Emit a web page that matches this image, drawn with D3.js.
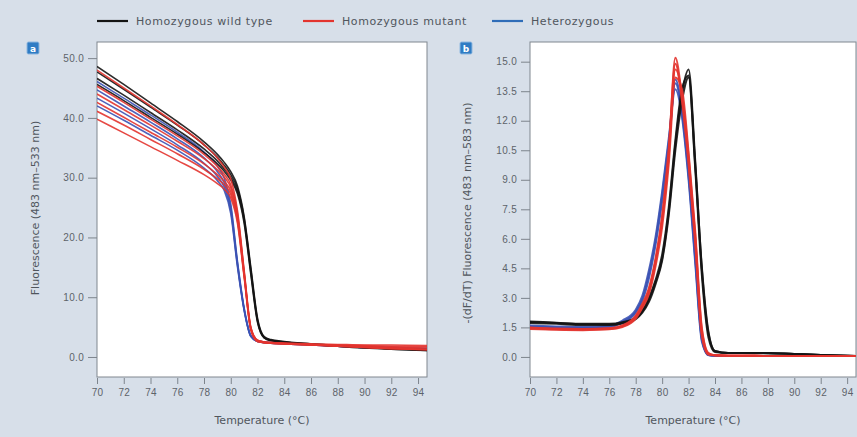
<!DOCTYPE html>
<html>
<head>
<meta charset="utf-8">
<script src="https://cdn.jsdelivr.net/npm/d3@7"></script>
<style>
  body { margin: 0; background: #d7dfe9; }
  svg { display: block; font-family: 'DejaVu Sans', sans-serif; }
  .axis path, .axis line { stroke: #7d848c; }
  .axis text { fill: #5d636a; font-size: 10px; letter-spacing: 0.3px; }
</style>
</head>
<body>
<div id="chart"></div>
<script>
// melting curves (panel a) and derivative peaks (panel b)
const tempA = [70, 72, 74, 76, 78, 79, 79.5, 80, 80.5, 81, 81.5, 82, 82.5, 83, 84, 86, 88, 90, 92, 94.7];

const wildTypeA = [
  [48.6, 45.6, 42.5, 39.4, 36.0, 33.9, 32.6, 31.0, 28.6, 23.5, 15.0, 6.5, 3.4, 2.9, 2.6, 2.2, 1.9, 1.6, 1.4, 1.2],
  [47.7, 44.8, 41.8, 38.8, 35.5, 33.4, 32.1, 30.5, 28.2, 23.2, 14.6, 6.2, 3.3, 2.8, 2.5, 2.2, 1.9, 1.6, 1.4, 1.2],
  [46.6, 43.8, 40.9, 38.0, 34.8, 32.8, 31.5, 30.0, 27.7, 22.8, 14.2, 6.0, 3.2, 2.8, 2.5, 2.1, 1.8, 1.6, 1.3, 1.1],
  [45.6, 42.9, 40.1, 37.3, 34.2, 32.3, 31.1, 29.6, 27.3, 22.4, 13.8, 5.8, 3.2, 2.7, 2.4, 2.1, 1.8, 1.5, 1.3, 1.1]
];
const mutantA = [
  [48.0, 45.0, 42.0, 38.9, 35.5, 33.3, 31.8, 29.8, 24.5, 14.5, 5.0, 2.8, 2.5, 2.4, 2.3, 2.1, 2.0, 1.9, 1.8, 1.7],
  [45.3, 42.6, 39.8, 37.0, 33.9, 31.9, 30.6, 28.8, 24.0, 14.2, 4.9, 2.8, 2.5, 2.4, 2.3, 2.1, 1.9, 1.8, 1.6, 1.5],
  [44.0, 41.4, 38.8, 36.1, 33.2, 31.3, 30.1, 28.3, 23.6, 14.0, 4.8, 2.7, 2.4, 2.3, 2.2, 2.0, 1.9, 1.7, 1.5, 1.3],
  [42.6, 40.1, 37.6, 35.1, 32.3, 30.5, 29.4, 27.7, 23.2, 13.8, 4.7, 2.7, 2.5, 2.4, 2.3, 2.2, 2.1, 2.0, 2.0, 1.9],
  [41.1, 38.8, 36.4, 34.0, 31.4, 29.8, 28.8, 27.2, 22.8, 13.6, 4.6, 2.6, 2.4, 2.3, 2.2, 2.0, 1.8, 1.6, 1.4, 1.2],
  [39.8, 37.5, 35.2, 32.9, 30.5, 29.0, 28.1, 26.6, 22.4, 13.4, 4.5, 2.6, 2.4, 2.3, 2.2, 2.0, 1.8, 1.6, 1.4, 1.2]
];
const heteroA = [
  [46.1, 43.3, 40.5, 37.6, 34.3, 31.9, 30.0, 25.6, 16.0, 8.2, 3.6, 2.7, 2.5, 2.4, 2.3, 2.1, 1.9, 1.7, 1.6, 1.4],
  [44.7, 42.0, 39.3, 36.5, 33.3, 31.0, 29.2, 25.0, 15.7, 8.0, 3.5, 2.7, 2.5, 2.4, 2.3, 2.1, 1.9, 1.7, 1.6, 1.4],
  [43.3, 40.8, 38.2, 35.5, 32.4, 30.2, 28.5, 24.5, 15.4, 7.9, 3.5, 2.6, 2.4, 2.3, 2.2, 2.0, 1.8, 1.6, 1.5, 1.3],
  [42.0, 39.6, 37.1, 34.6, 31.6, 29.5, 27.9, 24.0, 15.1, 7.8, 3.4, 2.6, 2.4, 2.3, 2.2, 2.0, 1.8, 1.6, 1.5, 1.3]
];

const tempB = [70, 72, 74, 76, 77, 78, 78.5, 79, 79.5, 80, 80.5, 81, 81.5, 82, 82.5, 83, 83.5, 84, 85, 86, 88, 90, 92, 94.7];

const wildTypeB = [
  [1.78, 1.72, 1.66, 1.66, 1.74, 1.98, 2.3, 2.9, 3.8, 5.0, 7.4, 10.8, 13.4, 14.6, 10.0, 4.5, 1.2, 0.3, 0.2, 0.2, 0.2, 0.15, 0.1, 0.05],
  [1.72, 1.68, 1.62, 1.62, 1.7, 1.92, 2.25, 2.8, 3.7, 4.9, 7.2, 10.5, 13.0, 14.2, 9.6, 4.2, 1.0, 0.25, 0.2, 0.2, 0.18, 0.15, 0.1, 0.05],
  [1.8, 1.74, 1.68, 1.68, 1.76, 2.0, 2.35, 3.0, 3.9, 5.2, 7.6, 11.0, 13.6, 14.3, 9.8, 4.6, 1.3, 0.3, 0.2, 0.2, 0.2, 0.15, 0.1, 0.05]
];
const mutantB = [
  [1.48, 1.42, 1.4, 1.44, 1.58, 2.05, 2.6, 3.4, 4.9, 7.0, 10.4, 15.2, 13.2, 10.0, 6.0, 1.2, 0.15, 0.08, 0.06, 0.06, 0.05, 0.05, 0.05, 0.05],
  [1.45, 1.4, 1.38, 1.42, 1.55, 2.0, 2.55, 3.3, 4.8, 6.9, 10.2, 14.6, 13.4, 10.2, 6.2, 1.4, 0.18, 0.08, 0.06, 0.06, 0.05, 0.05, 0.05, 0.05],
  [1.5, 1.44, 1.42, 1.46, 1.6, 2.1, 2.7, 3.5, 5.0, 7.2, 10.6, 14.9, 13.0, 9.8, 5.8, 1.1, 0.12, 0.08, 0.06, 0.06, 0.05, 0.05, 0.05, 0.05],
  [1.42, 1.38, 1.36, 1.4, 1.52, 1.95, 2.5, 3.2, 4.6, 6.6, 9.8, 14.2, 13.6, 10.4, 6.4, 1.5, 0.2, 0.08, 0.06, 0.06, 0.05, 0.05, 0.05, 0.05]
];
const heteroB = [
  [1.55, 1.5, 1.48, 1.55, 1.78, 2.3, 2.95, 4.2, 5.9, 8.2, 10.9, 13.9, 12.4, 9.2, 5.0, 0.9, 0.1, 0.06, 0.05, 0.05, 0.05, 0.05, 0.05, 0.05],
  [1.6, 1.55, 1.52, 1.6, 1.85, 2.4, 3.1, 4.4, 6.1, 8.4, 11.1, 13.6, 12.2, 9.0, 4.8, 0.8, 0.1, 0.06, 0.05, 0.05, 0.05, 0.05, 0.05, 0.05],
  [1.52, 1.48, 1.46, 1.52, 1.74, 2.25, 2.85, 4.0, 5.7, 7.9, 10.6, 14.1, 12.6, 9.4, 5.2, 1.0, 0.1, 0.06, 0.05, 0.05, 0.05, 0.05, 0.05, 0.05]
];

const xTicks = [70, 72, 74, 76, 78, 80, 82, 84, 86, 88, 90, 92, 94];
const yTicksA = [0, 10, 20, 30, 40, 50];
const yTicksB = [0, 1.5, 3, 4.5, 6, 7.5, 9, 10.5, 12, 13.5, 15];

const legendItems = [
  { label: 'Homozygous wild type', color: '#141414' },
  { label: 'Homozygous mutant', color: '#e3342f' },
  { label: 'Heterozygous', color: '#2f6db8' }
];
const colors = { wt: '#141414', mut: '#e3342f', het: '#3b52b4' };

const w = 857,
  h = 437;

const svg = d3
  .select('#chart')
  .append('svg')
  .attr('width', w)
  .attr('height', h);

svg.append('rect').attr('width', w).attr('height', h).attr('fill', '#d7dfe9');

// legend
const legendX = [97, 303, 492];
legendItems.forEach((d, i) => {
  svg
    .append('line')
    .attr('x1', legendX[i])
    .attr('x2', legendX[i] + 31)
    .attr('y1', 21)
    .attr('y2', 21)
    .attr('stroke', d.color)
    .attr('stroke-width', 2.2);
  svg
    .append('text')
    .attr('x', legendX[i] + 39)
    .attr('y', 25)
    .attr('fill', '#50565d')
    .style('font-size', '11px')
    .style('letter-spacing', '0.6px')
    .text(d.label);
});

function panel(opts) {
  const { left, right, top, bottom, yDomain, yTicks, temps, groups, badge, yTitle, lw } = opts;

  const x = d3.scaleLinear().domain([70, 94.67]).range([left, right]);
  const y = d3.scaleLinear().domain(yDomain).range([bottom, top]);

  const g = svg.append('g');

  g.append('rect')
    .attr('x', left)
    .attr('y', top)
    .attr('width', right - left)
    .attr('height', bottom - top)
    .attr('fill', '#fff')
    .attr('stroke', '#80878f');

  const clipId = 'clip-' + badge;
  g.append('clipPath')
    .attr('id', clipId)
    .append('rect')
    .attr('x', left)
    .attr('y', top)
    .attr('width', right - left)
    .attr('height', bottom - top);

  const line = d3
    .line()
    .x((d, i) => x(temps[i]))
    .y((d) => y(d))
    .curve(d3.curveMonotoneX);

  const lines = g.append('g').attr('clip-path', `url(#${clipId})`);
  groups.forEach((grp) => {
    lines
      .selectAll(null)
      .data(grp.series)
      .join('path')
      .attr('d', line)
      .attr('fill', 'none')
      .attr('stroke', grp.color)
      .attr('stroke-width', lw)
      .attr('stroke-opacity', 0.9)
      .attr('stroke-linejoin', 'round');
  });

  g.append('g')
    .attr('class', 'axis')
    .attr('transform', `translate(0,${bottom + 1})`)
    .call(d3.axisBottom(x).tickValues(xTicks).tickSize(6).tickPadding(5).tickFormat(d3.format('d')))
    .call((a) => a.select('.domain').remove());

  g.append('g')
    .attr('class', 'axis')
    .attr('transform', `translate(${left},0)`)
    .call(d3.axisLeft(y).tickValues(yTicks).tickSize(9).tickPadding(4).tickFormat(d3.format('.1f')))
    .call((a) => a.select('.domain').remove());

  g.append('text')
    .attr('x', (left + right) / 2)
    .attr('y', 424)
    .attr('text-anchor', 'middle')
    .attr('fill', '#50565d')
    .style('font-size', '11px')
    .text('Temperature (°C)');

  g.append('text')
    .attr('transform', `translate(${opts.yTitleX},${opts.yTitleY}) rotate(-90)`)
    .attr('text-anchor', 'middle')
    .attr('fill', '#50565d')
    .style('font-size', '11px')
    .text(yTitle);

  // panel letter badge
  g.append('rect')
    .attr('x', opts.badgeX)
    .attr('y', 42)
    .attr('width', 12)
    .attr('height', 12)
    .attr('rx', 1.5)
    .attr('fill', '#2f7cc4')
    .attr('stroke', '#8fb8e0')
    .attr('stroke-width', 1);
  g.append('text')
    .attr('x', opts.badgeX + 6)
    .attr('y', 51.5)
    .attr('text-anchor', 'middle')
    .attr('fill', '#fff')
    .style('font-size', '9px')
    .style('font-weight', 'bold')
    .text(badge);
}

panel({
  left: 97,
  right: 427,
  top: 42,
  bottom: 377,
  yDomain: [-3.35, 52.7],
  yTicks: yTicksA,
  temps: tempA,
  lw: 1.6,
  groups: [
    { series: heteroA, color: colors.het },
    { series: wildTypeA, color: colors.wt },
    { series: mutantA, color: colors.mut }
  ],
  badge: 'a',
  badgeX: 27,
  yTitle: 'Fluorescence (483 nm–533 nm)',
  yTitleX: 39,
  yTitleY: 208
});

panel({
  left: 530,
  right: 856,
  top: 42,
  bottom: 377,
  yDomain: [-1.02, 16.0],
  yTicks: yTicksB,
  temps: tempB,
  lw: 2,
  groups: [
    { series: heteroB, color: colors.het },
    { series: wildTypeB, color: colors.wt },
    { series: mutantB, color: colors.mut }
  ],
  badge: 'b',
  badgeX: 460,
  yTitle: '-(dF/dT) Fluorescence (483 nm–583 nm)',
  yTitleX: 471,
  yTitleY: 213
});
</script>
</body>
</html>
